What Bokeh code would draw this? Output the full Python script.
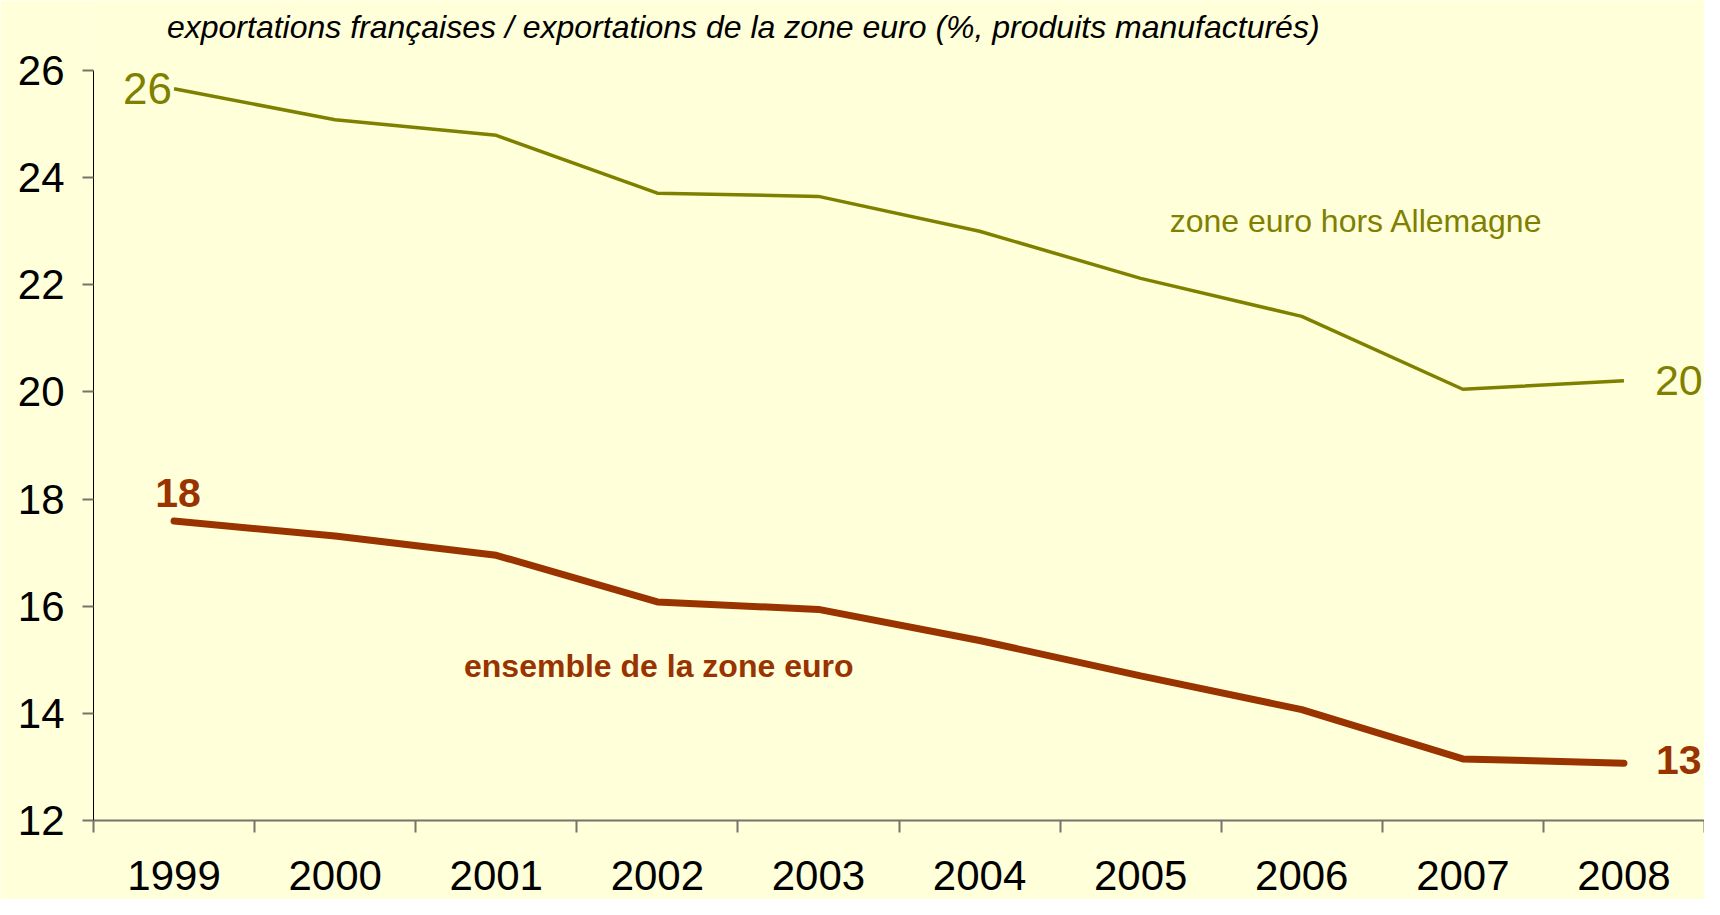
from bokeh.plotting import figure
from bokeh.models import Range1d, FixedTicker, Label
from bokeh.core.properties import value
from bokeh.embed import file_html
from bokeh.resources import INLINE

years = [1999, 2000, 2001, 2002, 2003, 2004, 2005, 2006, 2007, 2008]
hors_allemagne = [25.66, 25.08, 24.79, 23.71, 23.65, 23.00, 22.12, 21.41, 20.05, 20.21]
ensemble = [17.59, 17.31, 16.95, 16.08, 15.94, 15.36, 14.70, 14.07, 13.15, 13.07]
y_ticks = [12, 14, 16, 18, 20, 22, 24, 26]
title_text = "exportations françaises / exportations de la zone euro (%, produits manufacturés)"
name_green = "zone euro hors Allemagne"
name_red = "ensemble de la zone euro"

BG = "#FFFFD9"
GREEN = "#808000"
RED = "#993300"
AXIS_GRAY = "#75756a"
FONT = "Liberation Sans"

p = figure(width=1704, height=899, output_backend="svg", toolbar_location=None,
           x_range=Range1d(1998.5, 2008.5), y_range=Range1d(12, 27.307),
           min_border_left=93, min_border_right=0, min_border_top=0, min_border_bottom=79,
           background_fill_color=BG, border_fill_color=BG, outline_line_color=None)
p.grid.visible = False

# x axis: labels centred on years, tick marks between categories
xa = p.xaxis[0]
xa.ticker = FixedTicker(ticks=years, minor_ticks=[y - 0.5 for y in years] + [years[-1] + 0.5])
xa.major_tick_out = 0
xa.major_tick_in = 0
xa.minor_tick_out = 12
xa.minor_tick_in = 0
xa.minor_tick_line_color = AXIS_GRAY
xa.minor_tick_line_width = 2
xa.axis_line_color = AXIS_GRAY
xa.axis_line_width = 2
xa.major_label_text_font = FONT
xa.major_label_text_font_size = "42px"
xa.major_label_text_color = "black"
xa.major_label_standoff = 28

# y axis
ya = p.yaxis[0]
ya.ticker = FixedTicker(ticks=y_ticks, minor_ticks=[])
ya.bounds = (12, 26)
ya.major_tick_out = 11
ya.major_tick_in = 0
ya.major_tick_line_color = AXIS_GRAY
ya.major_tick_line_width = 2
ya.axis_line_color = "black"
ya.axis_line_width = 1
ya.major_label_text_font = FONT
ya.major_label_text_font_size = "42px"
ya.major_label_text_color = "black"
ya.major_label_standoff = 18

p.line(years, hors_allemagne, line_color=GREEN, line_width=3.5)
p.line(years, ensemble, line_color=RED, line_width=7, line_cap="round")

# end value labels
p.text([years[0]], [hors_allemagne[0]], text=[f"{round(hors_allemagne[0])}"],
       text_font=value(FONT), text_font_size="44px", text_color=GREEN,
       text_align="right", text_baseline="middle", x_offset=-2, y_offset=0)
p.text([years[-1]], [hors_allemagne[-1]], text=[f"{round(hors_allemagne[-1])}"],
       text_font=value(FONT), text_font_size="43px", text_color=GREEN,
       text_align="left", text_baseline="middle", x_offset=31, y_offset=0)
p.text([years[0]], [ensemble[0]], text=[f"{round(ensemble[0])}"],
       text_font=value(FONT), text_font_size="41px", text_font_style="bold", text_color=RED,
       text_align="center", text_baseline="middle", x_offset=4, y_offset=-28)
p.text([years[-1]], [ensemble[-1]], text=[f"{round(ensemble[-1])}"],
       text_font=value(FONT), text_font_size="41px", text_font_style="bold", text_color=RED,
       text_align="left", text_baseline="middle", x_offset=32, y_offset=-3)

p.add_layout(Label(x=1998.956, y=26.81, text=title_text, text_font=FONT,
                   text_font_size="32px", text_font_style="italic", text_color="black",
                   text_baseline="middle", text_align="left"))
p.add_layout(Label(x=2005.18, y=23.19, text=name_green, text_font=FONT,
                   text_font_size="32px", text_color=GREEN,
                   text_baseline="middle", text_align="left"))
p.add_layout(Label(x=2000.80, y=14.89, text=name_red, text_font=FONT,
                   text_font_size="32px", text_font_style="bold", text_color=RED,
                   text_baseline="middle", text_align="left"))

open("out.html", "w").write(file_html(p, INLINE))
